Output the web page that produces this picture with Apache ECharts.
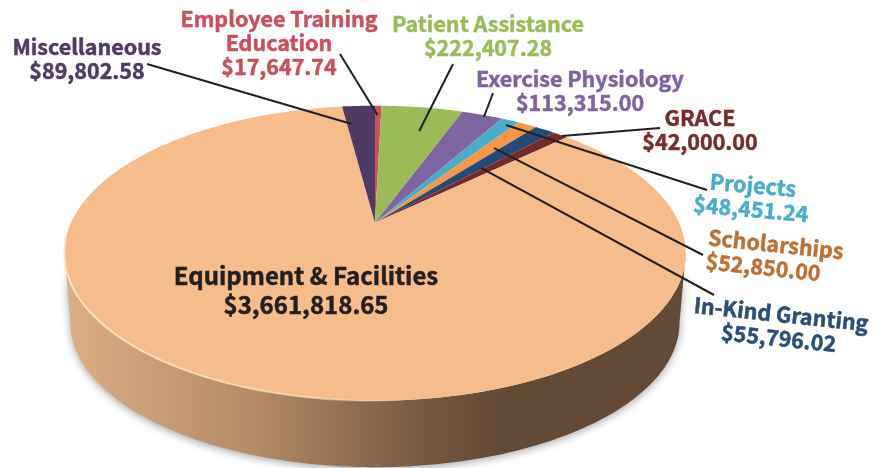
<!DOCTYPE html>
<html>
<head>
<meta charset="utf-8">
<title>Pie</title>
<style>
html, body { margin: 0; padding: 0; background: #fff; }
#div_echarts { width: 882px; height: 468px; }
</style>
<script src="https://cdn.jsdelivr.net/npm/echarts@6/dist/echarts.min.js"></script>
</head>
<body>
<div id="div_echarts"></div>
<script>
// clockwise from 12 o'clock
var categories = ['Employee Training\nEducation', 'Patient Assistance', 'Exercise Physiology', 'Projects', 'Scholarships', 'In-Kind Granting', 'GRACE', 'Equipment & Facilities', 'Miscellaneous'];
var amounts = [17647.74, 222407.28, 113315.00, 48451.24, 52850.00, 55796.02, 42000.00, 3661818.65, 89802.58];
var sliceColors = ['#c8505a', '#9bbb59', '#8064a2', '#4bacc6', '#f79646', '#264a75', '#772a2b', '#f6bc8b', '#4f3a64'];
var textColors = ['#c9505a', '#9bbb59', '#7f63a1', '#4bacc6', '#bd7034', '#2a4d7a', '#772c2a', '#231f20', '#4f3a64'];

// label block x, y, tilt in degrees, text align
var labelPlaces = [[279, 43, 0, 'center'], [488, 36, 0, 'center'], [580, 91, 0, 'center'], [752, 197, 5, 'center'], [707, 249, 6, 'left'], [780, 326, 6, 'center'], [700, 130, 0, 'center'], [306, 290, 0, 'center'], [87, 59, 0, 'center']];
// leader start x, y, then where it lands inside the slice: along the slice, along the radius
var leaders = [[340, 54, 0.42, 0.906], [453, 64, 0.6, 0.769], [493, 93, 0.58, 0.982], [707, 190, 0.58, 0.951], [703, 255, 0.66, 0.739], [714, 295, 0.89, 0.566], [660, 128, 0.66, 0.996], null, [147, 64, 0.17, 0.822]];

// disc in perspective, the far side is squeezed
var apexX = 375, apexY = 222.7, scaleX = 304, scaleY = 141.2, persp = 0.207;
var rimScale = 0.98, rimDrop = 70;

var total = amounts.reduce(function (a, b) { return a + b; }, 0);
var slices = [];
var run = 0;
amounts.forEach(function (v) {
    slices.push([run / total * 360, (run + v) / total * 360]);
    run += v;
});

var project = function (deg, r) {
    var t = deg * Math.PI / 180;
    var X = r * Math.sin(t), Y = r * Math.cos(t);
    var f = 1 + persp * Y;
    return [apexX + scaleX * X / f, apexY - scaleY * Y / f];
};

var arc = function (from, to) {
    var pts = [];
    var n = Math.max(2, Math.ceil(Math.abs(to - from)));
    for (var i = 0; i <= n; i++) {
        pts.push(project(from + (to - from) * i / n, 1));
    }
    return pts;
};

var money = function (v) {
    return '$' + v.toLocaleString('en-US', { minimumFractionDigits: 2, maximumFractionDigits: 2 });
};

var initEcharts = function () {
    var myChart = echarts.init(document.getElementById('div_echarts'));
    var edge = Math.acos(-persp) * 180 / Math.PI;

    var option = {
        animation: false,
        backgroundColor: '#fff',
        series: [
            {
                // side wall
                type: 'custom',
                coordinateSystem: 'none',
                silent: true,
                data: [0],
                renderItem: function () {
                    var upper = arc(edge, 360 - edge);
                    var lower = upper.map(function (p) {
                        return [apexX + (p[0] - apexX) * rimScale, apexY + (p[1] - apexY) * rimScale + rimDrop];
                    }).reverse();
                    return {
                        type: 'polygon',
                        shape: { points: upper.concat(lower) },
                        style: {
                            fill: {
                                type: 'linear', x: 0, y: 0, x2: 1, y2: 0,
                                colorStops: [
                                    { offset: 0, color: '#dcae85' },
                                    { offset: 0.3, color: '#b58b68' },
                                    { offset: 0.6, color: '#715540' },
                                    { offset: 0.7, color: '#634a36' },
                                    { offset: 1, color: '#634a36' }
                                ]
                            },
                            shadowBlur: 9,
                            shadowColor: 'rgba(0,0,0,0.35)',
                            shadowOffsetY: 2
                        }
                    };
                }
            },
            {
                // top face
                type: 'custom',
                coordinateSystem: 'none',
                silent: true,
                data: slices,
                renderItem: function (params, api) {
                    var pts = arc(api.value(0), api.value(1));
                    pts.push([apexX, apexY]);
                    return {
                        type: 'polygon',
                        shape: { points: pts },
                        style: { fill: sliceColors[params.dataIndex] }
                    };
                }
            },
            {
                // edge shine on the front of the face
                type: 'custom',
                coordinateSystem: 'none',
                silent: true,
                data: [0],
                renderItem: function () {
                    return {
                        type: 'polyline',
                        shape: { points: arc(360 - edge + 6, 175) },
                        style: {
                            fill: 'none',
                            lineWidth: 2,
                            stroke: {
                                type: 'linear', x: 0, y: 0, x2: 1, y2: 0,
                                colorStops: [
                                    { offset: 0, color: 'rgba(255,232,195,0.9)' },
                                    { offset: 0.7, color: 'rgba(255,232,195,0.6)' },
                                    { offset: 1, color: 'rgba(255,232,195,0)' }
                                ]
                            }
                        }
                    };
                }
            },
            {
                // leader lines
                type: 'custom',
                coordinateSystem: 'none',
                silent: true,
                data: categories.map(function (c, i) { return i; }),
                renderItem: function (params) {
                    var l = leaders[params.dataIndex];
                    if (!l) { return null; }
                    var s = slices[params.dataIndex];
                    var end = project(s[0] + (s[1] - s[0]) * l[2], l[3]);
                    return {
                        type: 'line',
                        shape: { x1: l[0], y1: l[1], x2: end[0], y2: end[1] },
                        style: { stroke: '#231f20', lineWidth: 2 }
                    };
                }
            },
            {
                // labels
                type: 'custom',
                coordinateSystem: 'none',
                silent: true,
                data: categories.map(function (c, i) { return i; }),
                renderItem: function (params) {
                    var i = params.dataIndex;
                    var p = labelPlaces[i];
                    var big = i === 7;
                    return {
                        type: 'text',
                        x: p[0],
                        y: p[1],
                        rotation: -p[2] * Math.PI / 180,
                        style: {
                            text: categories[i] + '\n' + money(amounts[i]),
                            fill: textColors[i],
                            stroke: textColors[i],
                            lineWidth: 0.5,
                            fontFamily: '"Noto Sans CJK SC", "Noto Sans", sans-serif',
                            fontWeight: 'bold',
                            fontSize: big ? 24 : 21.5,
                            lineHeight: big ? 29 : 24,
                            align: p[3],
                            verticalAlign: 'middle'
                        }
                    };
                }
            }
        ]
    };
    myChart.setOption(option);
};

initEcharts();
</script>
</body>
</html>
